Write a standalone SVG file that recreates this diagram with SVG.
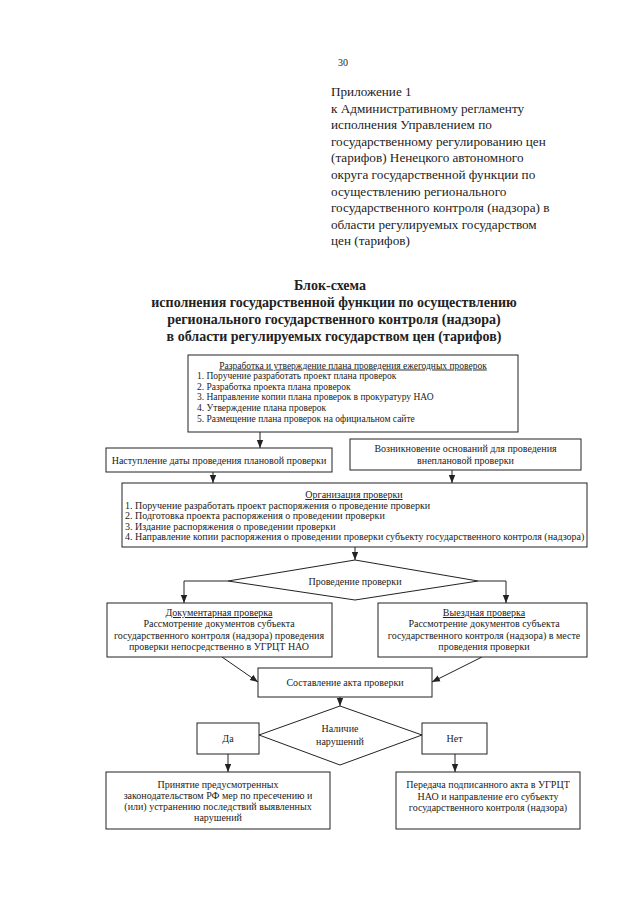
<svg xmlns="http://www.w3.org/2000/svg" width="640" height="905" viewBox="0 0 640 905">
<defs>
<marker id="ah" markerUnits="userSpaceOnUse" markerWidth="8" markerHeight="8" viewBox="0 0 8 8" refX="8" refY="4" orient="auto">
<path d="M0,0.8 L8,4 L0,7.2 Z" fill="#222"/>
</marker>
</defs>
<style>
text{font-family:"Liberation Serif","Times New Roman",serif;fill:#222}
.hdr{font-size:13.2px}
.ttl{font-size:14px;font-weight:bold;text-anchor:middle}
.b{fill:#fff;stroke:#222;stroke-width:1}
.s{font-size:9.5px}
.m{font-size:10px}
.c{text-anchor:middle}
.u{text-decoration:underline}
.ln{fill:none;stroke:#222;stroke-width:1}
</style>
<rect width="640" height="905" fill="#fff"/>
<text x="338" y="66" style="font-size:10px">30</text>
<g id="header" class="hdr">
<text x="331" y="96">Приложение 1</text>
<text x="331" y="112.6">к Административному регламенту</text>
<text x="331" y="129.2">исполнения Управлением по</text>
<text x="331" y="145.8">государственному регулированию цен</text>
<text x="331" y="162.4">(тарифов) Ненецкого автономного</text>
<text x="331" y="179">округа государственной функции по</text>
<text x="331" y="195.6">осуществлению регионального</text>
<text x="331" y="212.2">государственного контроля (надзора) в</text>
<text x="331" y="228.8">области регулируемых государством</text>
<text x="331" y="245.4">цен (тарифов)</text>
</g>
<g id="title">
<text class="ttl" x="330" y="290">Блок-схема</text>
<text class="ttl" x="334" y="307">исполнения государственной функции по осуществлению</text>
<text class="ttl" x="334" y="324">регионального государственного контроля (надзора)</text>
<text class="ttl" x="334" y="341">в области регулируемых государством цен (тарифов)</text>
</g>
<g id="connectors" class="ln">
<line x1="260" y1="432" x2="260" y2="448" marker-end="url(#ah)"/>
<line x1="213" y1="472" x2="213" y2="483" marker-end="url(#ah)"/>
<line x1="452" y1="470" x2="452" y2="483" marker-end="url(#ah)"/>
<line x1="355" y1="547" x2="355" y2="560" marker-end="url(#ah)"/>
<polyline points="228,581 184,581 184,603" marker-end="url(#ah)"/>
<polyline points="478,581 506,581 506,603" marker-end="url(#ah)"/>
<line x1="222" y1="657" x2="258" y2="682" marker-end="url(#ah)"/>
<line x1="482" y1="657" x2="432" y2="682" marker-end="url(#ah)"/>
<line x1="340" y1="697" x2="340" y2="706" marker-end="url(#ah)"/>
<line x1="228" y1="754" x2="228" y2="772" marker-end="url(#ah)"/>
<line x1="455" y1="754" x2="455" y2="772" marker-end="url(#ah)"/>
</g>
<g id="n-plan">
<rect class="b" x="188" y="355" width="330" height="77"/>
<text class="s c u" x="353" y="368.5">Разработка и утверждение плана проведения ежегодных проверок</text>
<text class="s" x="197" y="379">1. Поручение разработать проект плана проверок</text>
<text class="s" x="197" y="389.7">2. Разработка проекта плана проверок</text>
<text class="s" x="197" y="400.4">3. Направление копии плана проверок в прокуратуру НАО</text>
<text class="s" x="197" y="411.1">4. Утверждение плана проверок</text>
<text class="s" x="197" y="421.8">5. Размещение плана проверок на официальном сайте</text>
</g>
<g id="n-planned">
<rect class="b" x="106" y="448" width="226" height="24"/>
<text class="m c" x="219" y="463.5">Наступление даты проведения плановой проверки</text>
</g>
<g id="n-unplanned">
<rect class="b" x="350" y="439" width="231" height="31"/>
<text class="m c" x="465.5" y="452">Возникновение оснований для проведения</text>
<text class="m c" x="465.5" y="463.5">внеплановой проверки</text>
</g>
<g id="n-org">
<rect class="b" x="122" y="483" width="465" height="64"/>
<text class="m c u" x="354" y="498">Организация проверки</text>
<text class="m" x="125" y="508.5">1. Поручение разработать проект распоряжения о проведение проверки</text>
<text class="m" x="125" y="519">2. Подготовка проекта распоряжения о проведении проверки</text>
<text class="m" x="125" y="529.5">3. Издание распоряжения о проведении проверки</text>
<text class="m" x="125" y="540">4. Направление копии распоряжения о проведении проверки субъекту государственного контроля (надзора)</text>
</g>
<g id="n-conduct">
<polygon class="b" points="355,560 478,581 355,600 228,581"/>
<text class="m c" x="355" y="584.5">Проведение проверки</text>
</g>
<g id="n-doc">
<rect class="b" x="107" y="603" width="225" height="54"/>
<text class="m c u" x="219" y="616">Документарная проверка</text>
<text class="m c" x="219" y="627.3">Рассмотрение документов субъекта</text>
<text class="m c" x="219" y="638.6">государственного контроля (надзора)  проведения</text>
<text class="m c" x="219" y="649.9">проверки непосредственно в УГРЦТ НАО</text>
</g>
<g id="n-field">
<rect class="b" x="378" y="603" width="209" height="54"/>
<text class="m c u" x="484" y="616">Выездная проверка</text>
<text class="m c" x="484" y="627.3">Рассмотрение документов субъекта</text>
<text class="m c" x="484" y="638.6">государственного контроля (надзора) в месте</text>
<text class="m c" x="484" y="649.9">проведения проверки</text>
</g>
<g id="n-act">
<rect class="b" x="258" y="668" width="174" height="29"/>
<text class="m c" x="345" y="685.5">Составление акта проверки</text>
</g>
<g id="n-violations">
<polygon class="b" points="340,706 422,735 340,765 259,735"/>
<text class="m c" x="340" y="731.5">Наличие</text>
<text class="m c" x="340" y="745">нарушений</text>
</g>
<g id="n-yes">
<rect class="b" x="197" y="723" width="62" height="31"/>
<text class="m c" x="228" y="741.5">Да</text>
</g>
<g id="n-no">
<rect class="b" x="422" y="723" width="65" height="31"/>
<text class="m c" x="454.5" y="741.5">Нет</text>
</g>
<g id="n-measures">
<rect class="b" x="106" y="772" width="224" height="57"/>
<text class="m c" x="218" y="787.5">Принятие предусмотренных</text>
<text class="m c" x="218" y="798.8">законодательством РФ мер по пресечению и</text>
<text class="m c" x="218" y="810.1">(или) устранению последствий выявленных</text>
<text class="m c" x="218" y="821.4">нарушений</text>
</g>
<g id="n-transfer">
<rect class="b" x="396" y="772" width="184" height="57"/>
<text class="m c" x="488" y="788">Передача подписанного акта в УГРЦТ</text>
<text class="m c" x="488" y="799.5">НАО и направление его субъекту</text>
<text class="m c" x="488" y="811">государственного контроля (надзора)</text>
</g>
</svg>
